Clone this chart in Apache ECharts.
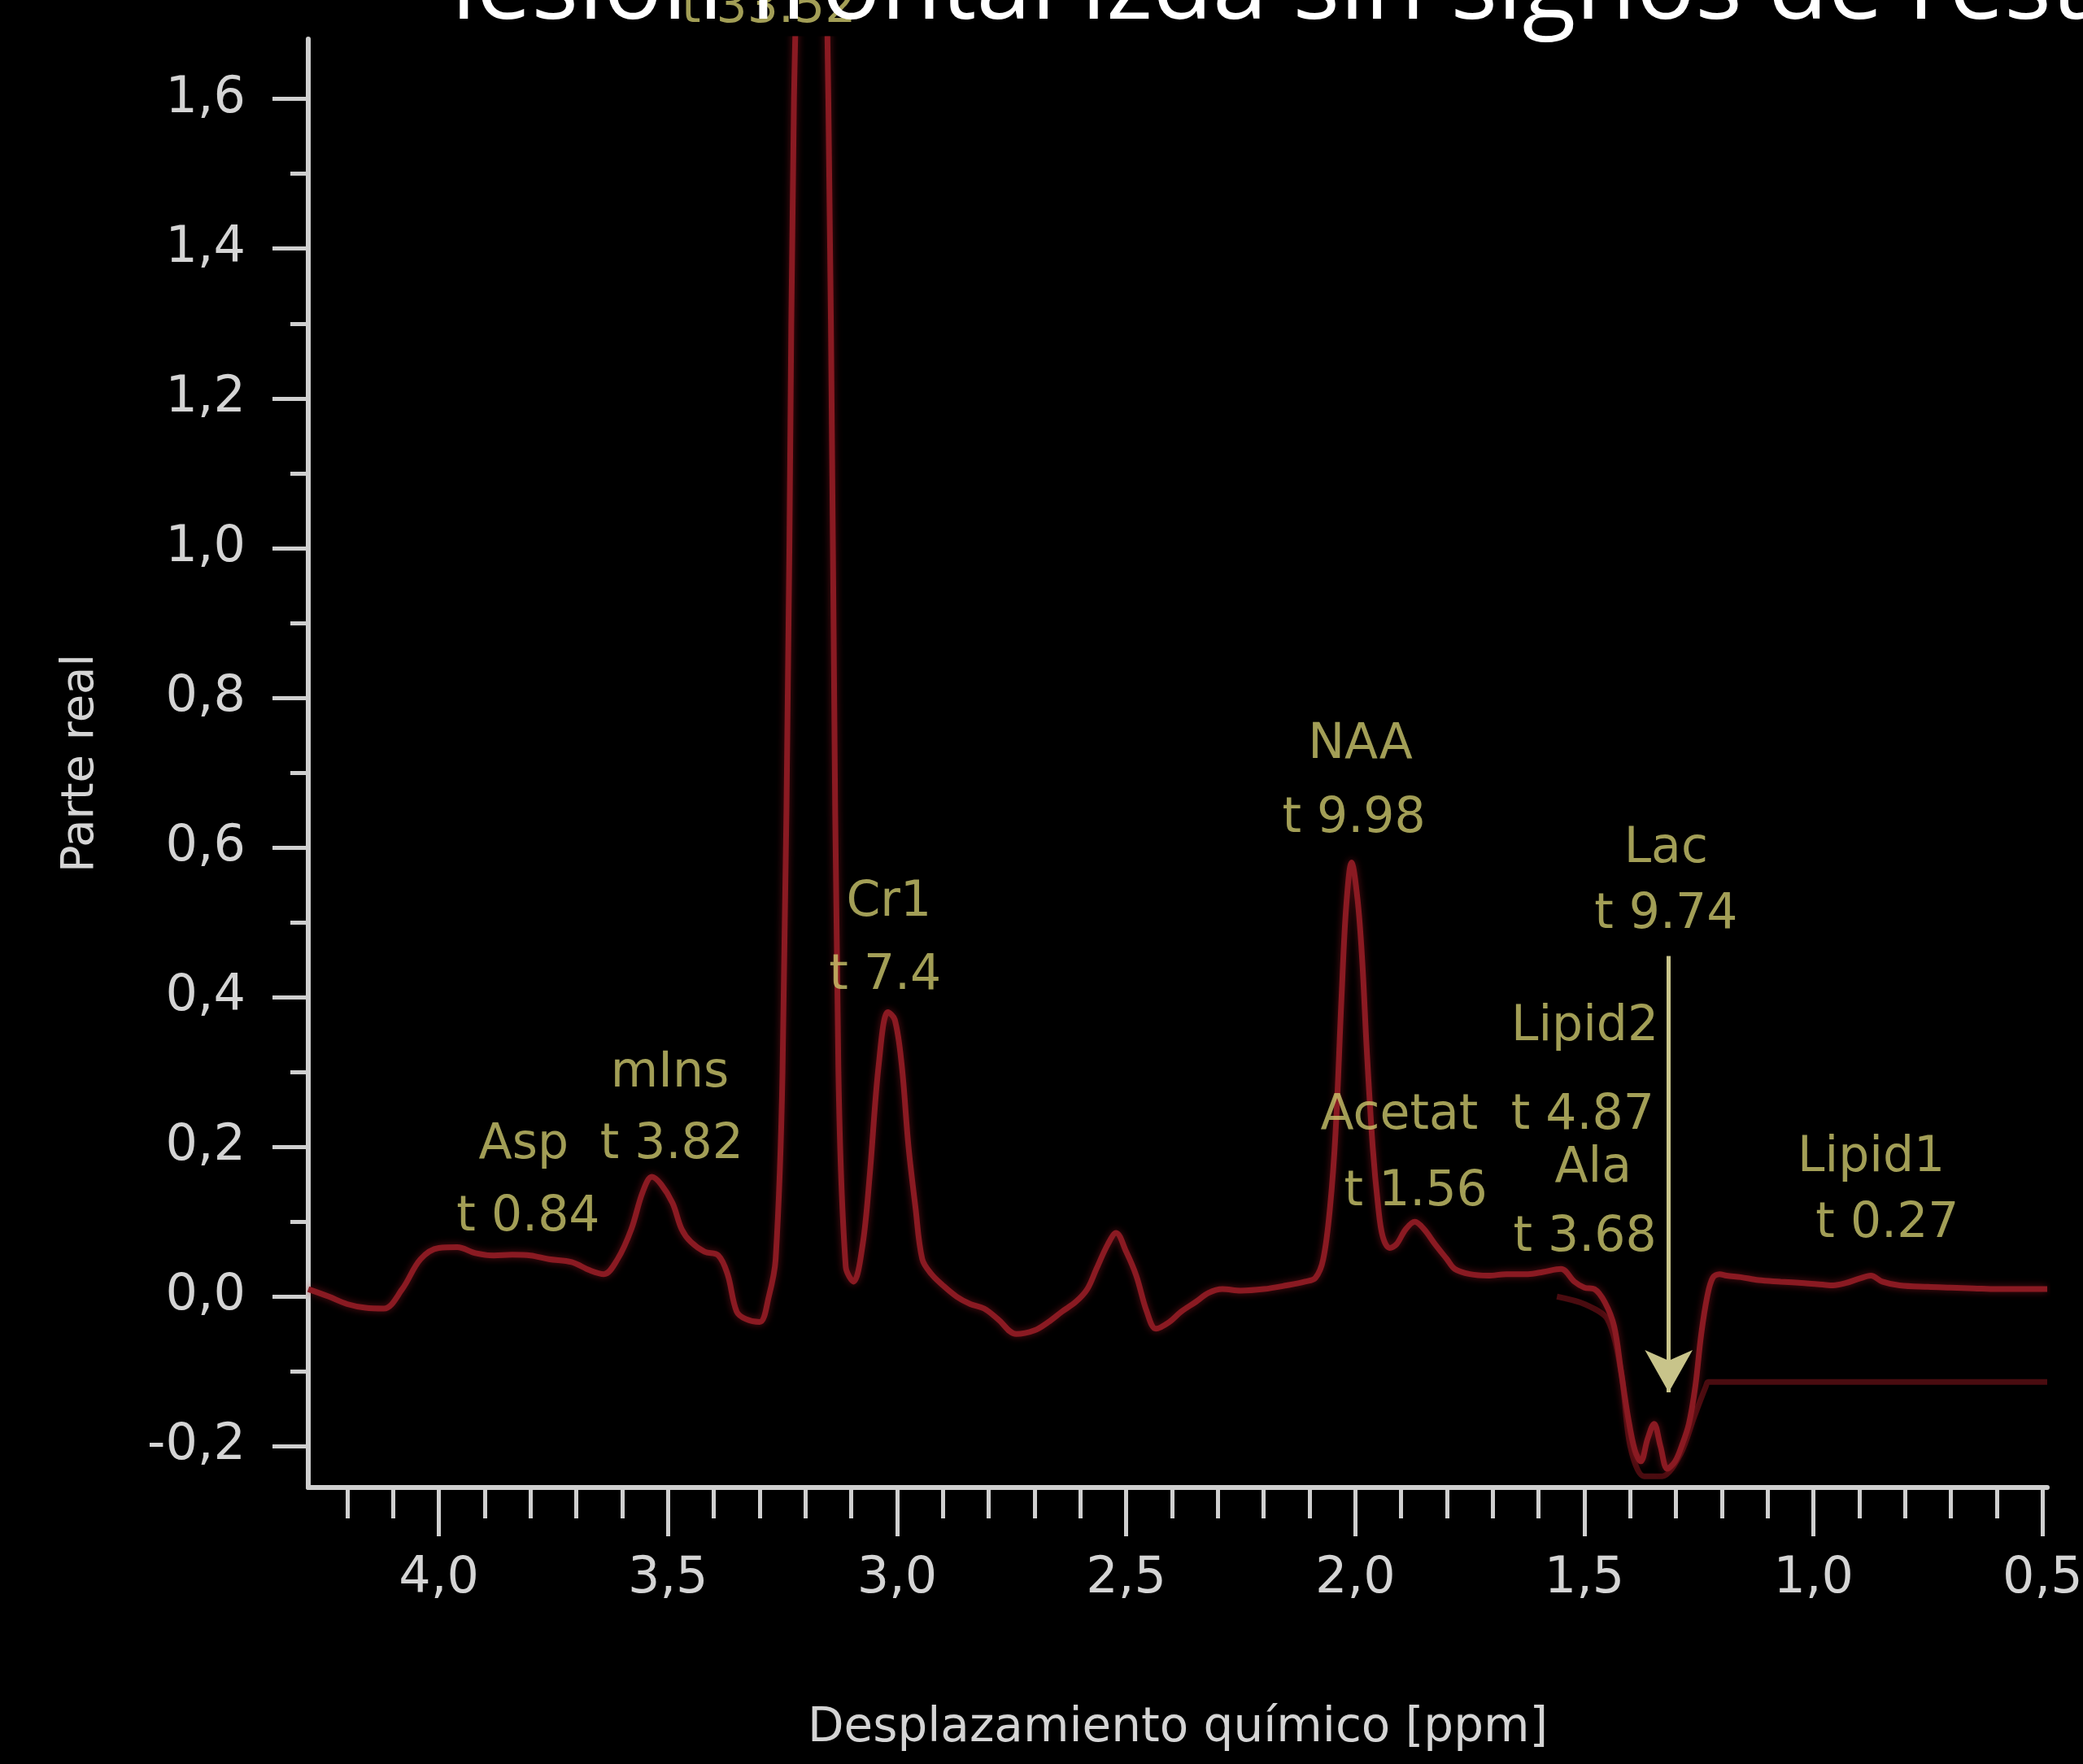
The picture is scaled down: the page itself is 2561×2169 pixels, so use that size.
<!DOCTYPE html>
<html>
<head>
<meta charset="utf-8">
<style>
  html, body { margin: 0; padding: 0; background: #000; }
  #chart { width: 2561px; height: 2169px; }
</style>
<script src="https://cdn.jsdelivr.net/npm/echarts@6/dist/echarts.min.js"></script>
</head>
<body>
<div id="chart"></div>
<script>
// Chemical shift (ppm) and real part of the spectrum
const shiftPpm = [
  4.285, 4.24, 4.20, 4.16, 4.12, 4.08, 4.04, 4.00, 3.96, 3.92, 3.88, 3.84, 3.80, 3.76, 3.71, 3.67,
  3.64, 3.61, 3.58, 3.555, 3.535, 3.515, 3.49, 3.47, 3.45, 3.42, 3.39, 3.37, 3.35, 3.33, 3.30, 3.28,
  3.265, 3.25, 3.235, 3.225, 3.205, 3.186, 3.165, 3.15, 3.14, 3.128, 3.112, 3.095, 3.075, 3.06, 3.04,
  3.02, 3.005, 2.99, 2.975, 2.96, 2.945, 2.925, 2.90, 2.87, 2.84, 2.81, 2.78, 2.74, 2.70, 2.67, 2.64,
  2.61, 2.585, 2.565, 2.54, 2.522, 2.50, 2.478, 2.455, 2.435, 2.406, 2.38, 2.348, 2.32, 2.29, 2.25,
  2.20, 2.15, 2.11, 2.087, 2.07, 2.055, 2.043, 2.03, 2.02, 2.008, 1.995, 1.985, 1.975, 1.962, 1.95,
  1.94, 1.925, 1.91, 1.89, 1.87, 1.85, 1.826, 1.80, 1.783, 1.75, 1.71, 1.67, 1.623, 1.59, 1.551,
  1.522, 1.50, 1.478, 1.455, 1.435, 1.42, 1.405, 1.39, 1.377, 1.362, 1.348, 1.334, 1.319, 1.302,
  1.288, 1.272, 1.258, 1.245, 1.232, 1.22, 1.205, 1.19, 1.159, 1.12, 1.072, 1.02, 0.98, 0.957, 0.93,
  0.90, 0.875, 0.85, 0.812, 0.75, 0.70, 0.65, 0.60, 0.55, 0.49
];
const realPart = [
  0.01, 0.0, -0.01, -0.015, -0.016, 0.01, 0.05, 0.065, 0.066, 0.058, 0.055, 0.056, 0.055, 0.05, 0.046, 0.035,
  0.03, 0.05, 0.09, 0.14, 0.16, 0.15, 0.125, 0.09, 0.073, 0.06, 0.055, 0.03, -0.02, -0.03, -0.034, 0.0,
  0.05, 0.3, 1.0, 1.6, 2.0, 2.1, 2.0, 1.6, 1.0, 0.3, 0.04, 0.02, 0.07, 0.16, 0.31,
  0.38, 0.37, 0.31, 0.2, 0.12, 0.05, 0.03, 0.015, 0.0, -0.01, -0.016, -0.03, -0.05, -0.045, -0.034, -0.02,
  -0.007, 0.01, 0.037, 0.07, 0.085, 0.06, 0.028, -0.02, -0.043, -0.034, -0.02, -0.007, 0.005, 0.01, 0.008,
  0.01, 0.015, 0.02, 0.025, 0.05, 0.12, 0.22, 0.4, 0.52, 0.58, 0.53, 0.45, 0.33, 0.2, 0.12,
  0.08, 0.065, 0.07, 0.09, 0.1, 0.09, 0.07, 0.05, 0.037, 0.03, 0.028, 0.03, 0.03, 0.033, 0.037,
  0.02, 0.012, 0.01, -0.008, -0.04, -0.1, -0.16, -0.205, -0.22, -0.19, -0.17, -0.2, -0.23, -0.22,
  -0.2, -0.17, -0.12, -0.05, 0.0, 0.025, 0.03, 0.028, 0.026, 0.022, 0.02, 0.018, 0.016, 0.015, 0.018,
  0.024, 0.028, 0.02, 0.015, 0.013, 0.012, 0.011, 0.01, 0.01, 0.01
];

// Secondary (dim) trace around and right of the lactate doublet
const dimPpm = [1.56, 1.50, 1.45, 1.42, 1.40, 1.37, 1.33, 1.29, 1.26, 1.235, 1.23, 0.49];
const dimReal = [0.0, -0.01, -0.03, -0.1, -0.2, -0.24, -0.24, -0.21, -0.16, -0.12, -0.114, -0.114];

// Axis ticks
const yMajor = [-0.2, 0.0, 0.2, 0.4, 0.6, 0.8, 1.0, 1.2, 1.4, 1.6];
const yMinor = [-0.1, 0.1, 0.3, 0.5, 0.7, 0.9, 1.1, 1.3, 1.5];
const xMajor = [0.5, 1.0, 1.5, 2.0, 2.5, 3.0, 3.5, 4.0];
const xMinor = [0.6, 0.7, 0.8, 0.9, 1.1, 1.2, 1.3, 1.4, 1.6, 1.7, 1.8, 1.9, 2.1, 2.2, 2.3, 2.4,
  2.6, 2.7, 2.8, 2.9, 3.1, 3.2, 3.3, 3.4, 3.6, 3.7, 3.8, 3.9, 4.1, 4.2];

// Metabolite annotations: text and the (ppm, value) where each line of text sits
const noteText = ['t 33.52', 'Cr1', 't 7.4', 'mIns', 'Asp', 't 3.82', 't 0.84', 'NAA', 't 9.98',
  'Lac', 't 9.74', 'Lipid2', 'Acetat', 't 4.87', 't 1.56', 'Ala', 't 3.68', 'Lipid1', 't 0.27'];
const notePpm = [3.28, 3.018, 3.026, 3.496, 3.815, 3.492, 3.805, 1.989, 2.003,
  1.322, 1.322, 1.499, 1.904, 1.504, 1.868, 1.481, 1.499, 0.874, 0.839];
const noteVal = [1.72, 0.526, 0.428, 0.298, 0.202, 0.202, 0.105, 0.737, 0.638,
  0.597, 0.509, 0.36, 0.241, 0.241, 0.139, 0.170, 0.078, 0.185, 0.097];

// Lactate pointer: start and tip
const lacArrow = [[1.316, 0.455], [1.316, -0.128]];

const title = 'lesión frontal izda sin signos de restos tumorales';

const fmt = v => v.toFixed(1).replace('.', ',');
const axisGrey = '#cfcfcf';
const noteYellow = '#cbc66c';
const traceRed = '#8a1a22';

const chart = echarts.init(document.getElementById('chart'), null, { renderer: 'canvas' });

const xMin = 0.49, xMax = 4.285, yMin = -0.255, yMax = 1.68;

chart.setOption({
  backgroundColor: '#000000',
  animation: false,
  grid: { left: 379, right: 44, top: 48, bottom: 340, containLabel: false, outerBoundsMode: 'none' },
  xAxis: [
    {
      type: 'value', inverse: true, min: xMin, max: xMax, position: 'bottom',
      axisLine: { show: true, onZero: false, lineStyle: { color: axisGrey, width: 6 } },
      axisTick: { show: true, customValues: xMajor, length: 60, lineStyle: { color: axisGrey, width: 5 } },
      axisLabel: { show: true, customValues: xMajor, formatter: fmt, margin: 82,
        color: '#d4d4d4', fontSize: 62, fontFamily: 'DejaVu Sans' },
      splitLine: { show: false },
      name: 'Desplazamiento químico [ppm]', nameLocation: 'middle', nameGap: 268,
      nameTextStyle: { color: '#d4d4d4', fontSize: 58, fontFamily: 'DejaVu Sans' }
    },
    {
      type: 'value', inverse: true, min: xMin, max: xMax, position: 'bottom',
      axisLine: { show: false, onZero: false },
      axisTick: { show: true, customValues: xMinor, length: 38, lineStyle: { color: axisGrey, width: 5 } },
      axisLabel: { show: false },
      splitLine: { show: false }
    }
  ],
  yAxis: [
    {
      type: 'value', min: yMin, max: yMax, position: 'left',
      axisLine: { show: true, onZero: false, lineStyle: { color: axisGrey, width: 6 } },
      axisTick: { show: true, customValues: yMajor, length: 44, lineStyle: { color: axisGrey, width: 5 } },
      axisLabel: { show: true, customValues: yMajor, formatter: fmt, margin: 77,
        color: '#d4d4d4', fontSize: 62, fontFamily: 'DejaVu Sans' },
      splitLine: { show: false },
      name: 'Parte real', nameLocation: 'middle', nameGap: 252, nameRotate: 90,
      nameTextStyle: { color: '#d4d4d4', fontSize: 56, fontFamily: 'DejaVu Sans' }
    },
    {
      type: 'value', min: yMin, max: yMax, position: 'left',
      axisLine: { show: false, onZero: false },
      axisTick: { show: true, customValues: yMinor, length: 22, lineStyle: { color: axisGrey, width: 5 } },
      axisLabel: { show: false },
      splitLine: { show: false }
    }
  ],
  series: [
    {
      name: 'dim', type: 'line', xAxisIndex: 0, yAxisIndex: 0,
      data: dimPpm.map((p, i) => [p, dimReal[i]]),
      symbol: 'none', smooth: 0.3, lineStyle: { color: '#4a0c10', width: 7 }, silent: true
    },
    {
      name: 'spectrum', type: 'line', xAxisIndex: 0, yAxisIndex: 0,
      data: shiftPpm.map((p, i) => [p, realPart[i]]),
      symbol: 'none', smooth: 0.35, clip: true,
      lineStyle: { color: traceRed, width: 7, shadowColor: 'rgba(150,25,35,0.6)', shadowBlur: 10 },
      silent: true
    },
    {
      name: 'notes', type: 'scatter', xAxisIndex: 0, yAxisIndex: 0, clip: false,
      symbolSize: 2, itemStyle: { color: 'rgba(0,0,0,0)' },
      data: notePpm.map((p, i) => ({ value: [p, noteVal[i]], name: noteText[i] })),
      label: {
        show: true, position: 'inside', formatter: p => p.name,
        color: noteYellow, fontSize: 60, fontFamily: 'DejaVu Sans',
        align: 'center', verticalAlign: 'middle'
      },
      labelLayout: { hideOverlap: false },
      markLine: {
        silent: true, symbol: ['none', 'arrow'], symbolSize: [44, 52],
        label: { show: false },
        lineStyle: { color: '#c8c48a', width: 5, type: 'solid' },
        data: [[{ coord: lacArrow[0] }, { coord: lacArrow[1] }]]
      },
      silent: true, z: 3
    }
  ],
  graphic: [
    {
      type: 'text', left: 555, top: -72, z: 100,
      style: { text: title, fill: '#ffffff', font: '121px "Open Sans"' }
    }
  ]
});
</script>
</body>
</html>
